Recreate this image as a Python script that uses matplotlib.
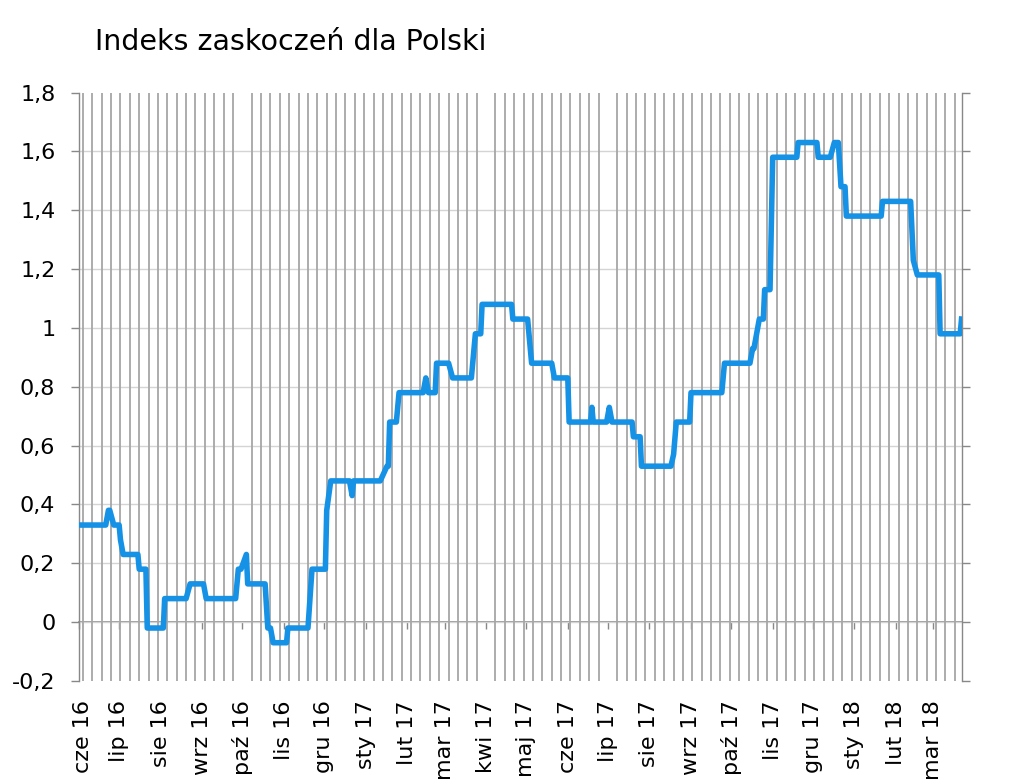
import numpy as np
import pandas as pd
import matplotlib
matplotlib.use('Agg')
import matplotlib.pyplot as plt
import matplotlib.dates as mdates
import matplotlib.transforms as mtransforms
from matplotlib.ticker import FuncFormatter, FixedLocator

plt.rcParams.update({
    'font.family': 'DejaVu Sans',
    'font.size': 16,
})

# Indeks zaskoczeń - punkty załamania linii
dates = [
    '2016-06-01', '2016-06-21', '2016-06-23', '2016-06-24', '2016-06-27',
    '2016-07-01', '2016-07-02', '2016-07-04', '2016-07-15', '2016-07-16',
    '2016-07-21', '2016-07-22', '2016-08-03', '2016-08-04', '2016-08-20',
    '2016-08-23', '2016-09-02', '2016-09-04', '2016-09-26', '2016-09-28',
    '2016-09-30', '2016-10-04', '2016-10-05', '2016-10-18', '2016-10-20',
    '2016-10-22', '2016-10-24', '2016-11-03', '2016-11-04', '2016-11-19',
    '2016-11-22', '2016-12-02', '2016-12-03', '2016-12-06', '2016-12-20',
    '2016-12-22', '2016-12-23', '2017-01-12', '2017-01-17', '2017-01-18',
    '2017-01-19', '2017-01-24', '2017-01-26', '2017-02-13', '2017-02-15',
    '2017-02-17', '2017-02-22', '2017-02-23', '2017-03-04', '2017-03-07',
    '2017-03-21', '2017-03-24', '2017-03-28', '2017-03-29', '2017-04-20',
    '2017-04-21', '2017-05-02', '2017-05-05', '2017-05-20', '2017-05-22',
    '2017-06-01', '2017-06-02', '2017-06-18', '2017-06-19', '2017-06-20',
    '2017-06-30', '2017-07-02', '2017-07-04', '2017-07-19', '2017-07-20',
    '2017-07-25', '2017-07-26', '2017-08-17', '2017-08-19', '2017-08-21',
    '2017-08-31', '2017-09-01', '2017-09-24', '2017-09-26', '2017-10-15',
    '2017-10-17', '2017-10-18', '2017-10-20', '2017-10-22', '2017-10-25',
    '2017-10-26', '2017-10-30', '2017-11-01', '2017-11-19', '2017-11-20',
    '2017-12-04', '2017-12-05', '2017-12-14', '2017-12-17', '2017-12-20',
    '2017-12-22', '2017-12-25', '2017-12-26', '2018-01-21', '2018-01-22',
    '2018-02-12', '2018-02-14', '2018-02-17', '2018-03-05', '2018-03-06',
    '2018-03-21', '2018-03-22',
]
values = [
    0.33, 0.33, 0.38, 0.38, 0.33,
    0.33, 0.28, 0.23, 0.23, 0.18,
    0.18, -0.02, -0.02, 0.08, 0.08,
    0.13, 0.13, 0.08, 0.08, 0.18,
    0.18, 0.23, 0.13, 0.13, -0.02,
    -0.02, -0.07, -0.07, -0.02, -0.02,
    0.18, 0.18, 0.38, 0.48, 0.48,
    0.43, 0.48, 0.48, 0.53, 0.53,
    0.68, 0.68, 0.78, 0.78, 0.83,
    0.78, 0.78, 0.88, 0.88, 0.83,
    0.83, 0.98, 0.98, 1.08, 1.08,
    1.03, 1.03, 0.88, 0.88, 0.83,
    0.83, 0.68, 0.68, 0.73, 0.68,
    0.68, 0.73, 0.68, 0.68, 0.63,
    0.63, 0.53, 0.53, 0.57, 0.68,
    0.68, 0.78, 0.78, 0.88, 0.88,
    0.93, 0.93, 0.98, 1.03, 1.03,
    1.13, 1.13, 1.58, 1.58, 1.63,
    1.63, 1.58, 1.58, 1.63, 1.63,
    1.48, 1.48, 1.38, 1.38, 1.43,
    1.43, 1.23, 1.18, 1.18, 0.98,
    0.98, 1.03,
]

month_names = ['sty', 'lut', 'mar', 'kwi', 'maj', 'cze',
               'lip', 'sie', 'wrz', 'paź', 'lis', 'gru']
y_ticks = [-0.2, 0.0, 0.2, 0.4, 0.6, 0.8, 1.0, 1.2, 1.4, 1.6, 1.8]

x_start = pd.Timestamp('2016-06-01')
x_end = pd.Timestamp('2018-03-22')

axis_grey = '#888888'

fig = plt.figure(figsize=(10.24, 7.84), dpi=100)
ax = fig.add_axes([0.0771, 0.1314, 0.8619, 0.7506])

ax.plot(pd.to_datetime(dates), values, color='#1592E6', lw=4.0,
        solid_joinstyle='round', zorder=5)

ax.set_xlim(x_start, x_end)
ax.set_ylim(-0.2, 1.8)

# siatka pozioma (bez krawedzi) i tygodniowa siatka pionowa
ax.hlines(y_ticks[1:-1], x_start, x_end, color='#d4d4d4', lw=1, zorder=1)
weeks = pd.date_range('2016-06-04', x_end, freq='7D')
ax.xaxis.set_minor_locator(FixedLocator(mdates.date2num(weeks)))
ax.grid(which='minor', axis='x', color='#a6a6a6', lw=1.3, zorder=0)

ax.set_yticks(y_ticks)
ax.yaxis.set_major_formatter(
    FuncFormatter(lambda v, p: f'{round(v, 1):g}'.replace('.', ',')))
ax.tick_params(axis='y', direction='out', length=6, width=1, color=axis_grey,
               left=True, right=True, labelright=False, pad=11)

def month_label(v, p):
    d = mdates.num2date(v)
    return f'{month_names[d.month - 1]} {d.year % 100}'

ax.xaxis.set_major_locator(mdates.MonthLocator())
ax.xaxis.set_major_formatter(FuncFormatter(month_label))
ax.tick_params(axis='x', which='both', length=0, pad=14, labelrotation=90)

fig.canvas.draw()
first = ax.get_xticklabels()[0]
first.set_transform(first.get_transform() +
                    mtransforms.ScaledTranslation(4 / 100, 0, fig.dpi_scale_trans))

for side in ['top', 'bottom']:
    ax.spines[side].set_visible(False)
for side in ['left', 'right']:
    ax.spines[side].set_color(axis_grey)
    ax.spines[side].set_linewidth(1)

# os X na poziomie zera z kreskami miesiecznymi
zero_axis = ax.secondary_xaxis(0.1)
zero_axis.xaxis.set_major_locator(mdates.MonthLocator())
zero_axis.tick_params(axis='x', direction='out', length=5, width=1,
                      color=axis_grey, labelbottom=False)
zero_axis.spines['bottom'].set_color(axis_grey)
zero_axis.spines['bottom'].set_linewidth(1.2)

fig.text(95 / 1024, 0.936, 'Indeks zaskoczeń dla Polski', fontsize=20.5,
         va='baseline')

fig.savefig('out.png', dpi=100)
